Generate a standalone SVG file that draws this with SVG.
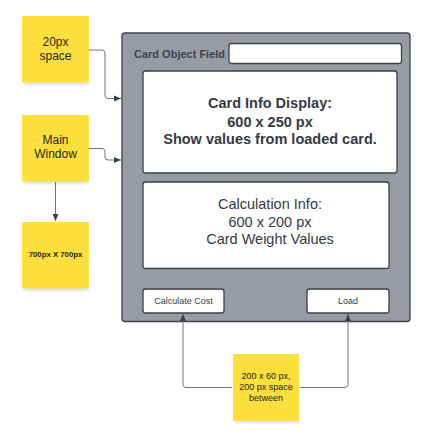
<svg xmlns="http://www.w3.org/2000/svg" width="427" height="445" viewBox="0 0 427 445">
<style>
.sticky{fill:#fddf3e}
.shadow{fill:#000;opacity:0.12}
.st{font-family:"Liberation Sans",Arial,sans-serif;fill:#1f1f1f;text-anchor:middle}
.box{fill:#fff;stroke:#3b404a;stroke-width:1.3}
.lbl{font-family:"Liberation Sans",Arial,sans-serif;fill:#333a45;text-anchor:middle}
.conn{fill:none;stroke:#6f747d;stroke-width:1}
</style>
<defs>
<marker id="arr" markerWidth="8" markerHeight="8" refX="7" refY="4" orient="auto" markerUnits="userSpaceOnUse">
<path d="M0,1 L7,4 L0,7 Z" fill="#3b404a"/>
</marker>
<filter id="blur" x="-20%" y="-20%" width="140%" height="140%"><feGaussianBlur stdDeviation="1.5"/></filter>
</defs>
<g id="frame">
<rect x="122" y="33" width="288" height="288.5" rx="3" fill="#979ca4" stroke="#3b404a" stroke-width="1.3"/>
<text x="134" y="58" font-family="Liberation Sans,Arial,sans-serif" font-size="11" font-weight="bold" fill="#3d424c">Card Object Field</text>
</g>
<g id="input"><rect class="box" x="229" y="43.5" width="172.5" height="20" rx="2.5"/></g>
<g id="card-info">
<rect class="box" x="143" y="71" width="254" height="102" rx="2.5"/>
<text class="lbl" x="270" y="108" font-size="14.5" font-weight="bold">Card Info Display:</text>
<text class="lbl" x="270" y="126.5" font-size="14.5" font-weight="bold">600 x 250 px</text>
<text class="lbl" x="270" y="143.5" font-size="14.5" font-weight="bold">Show values from loaded card.</text>
</g>
<g id="calc-info">
<rect class="box" x="143" y="182" width="246" height="86.5" rx="2.5"/>
<text class="lbl" x="270" y="208.5" font-size="14.5">Calculation Info:</text>
<text class="lbl" x="270" y="226.5" font-size="14.5">600 x 200 px</text>
<text class="lbl" x="270" y="244" font-size="14.5">Card Weight Values</text>
</g>
<g id="btn-calc">
<rect class="box" x="143" y="289" width="81" height="24" rx="2.5"/>
<text class="lbl" x="183.5" y="303.5" font-size="9">Calculate Cost</text>
</g>
<g id="btn-load">
<rect class="box" x="307" y="289" width="82" height="24" rx="2.5"/>
<text class="lbl" x="348" y="303.5" font-size="9">Load</text>
</g>
<g id="sticky-20px">
<rect class="shadow" x="24" y="19" width="64" height="66" filter="url(#blur)"/>
<rect class="sticky" x="22" y="16" width="67" height="66.5" rx="1"/>
<text class="st" x="55.5" y="45.5" font-size="12">20px</text>
<text class="st" x="55.5" y="59.5" font-size="12">space</text>
</g>
<g id="sticky-main">
<rect class="shadow" x="24" y="118" width="64" height="66" filter="url(#blur)"/>
<rect class="sticky" x="22" y="115" width="67" height="66.5" rx="1"/>
<text class="st" x="55.5" y="144" font-size="12">Main</text>
<text class="st" x="55.5" y="158" font-size="12">Window</text>
</g>
<g id="sticky-700">
<rect class="shadow" x="24" y="225" width="64" height="66" filter="url(#blur)"/>
<rect class="sticky" x="22" y="222" width="67" height="66.5" rx="1"/>
<text class="st" x="55.5" y="257" font-size="7.8" font-weight="bold">700px X 700px</text>
</g>
<g id="sticky-200">
<rect class="shadow" x="235" y="357" width="64" height="66" filter="url(#blur)"/>
<rect class="sticky" x="233" y="354" width="66" height="67" rx="1"/>
<text class="st" x="266" y="379" font-size="9">200 x 60 px,</text>
<text class="st" x="266" y="390" font-size="9">200 px space</text>
<text class="st" x="266" y="401" font-size="9">between</text>
</g>
<g id="connectors">
<path class="conn" d="M89,50 H102 Q105,50 105,53 V95.5 Q105,98.5 108,98.5 H121" marker-end="url(#arr)"/>
<path class="conn" d="M89,148.5 H102 Q105,148.5 105,151.5 V157 Q105,160 108,160 H121" marker-end="url(#arr)"/>
<path class="conn" stroke="#3b404a" d="M55.5,182 V221" marker-end="url(#arr)"/>
<path class="conn" d="M232,387.5 H186 Q183,387.5 183,384.5 V314" marker-end="url(#arr)"/>
<path class="conn" d="M300,387.5 H345 Q348,387.5 348,384.5 V314" marker-end="url(#arr)"/>
</g>
</svg>
